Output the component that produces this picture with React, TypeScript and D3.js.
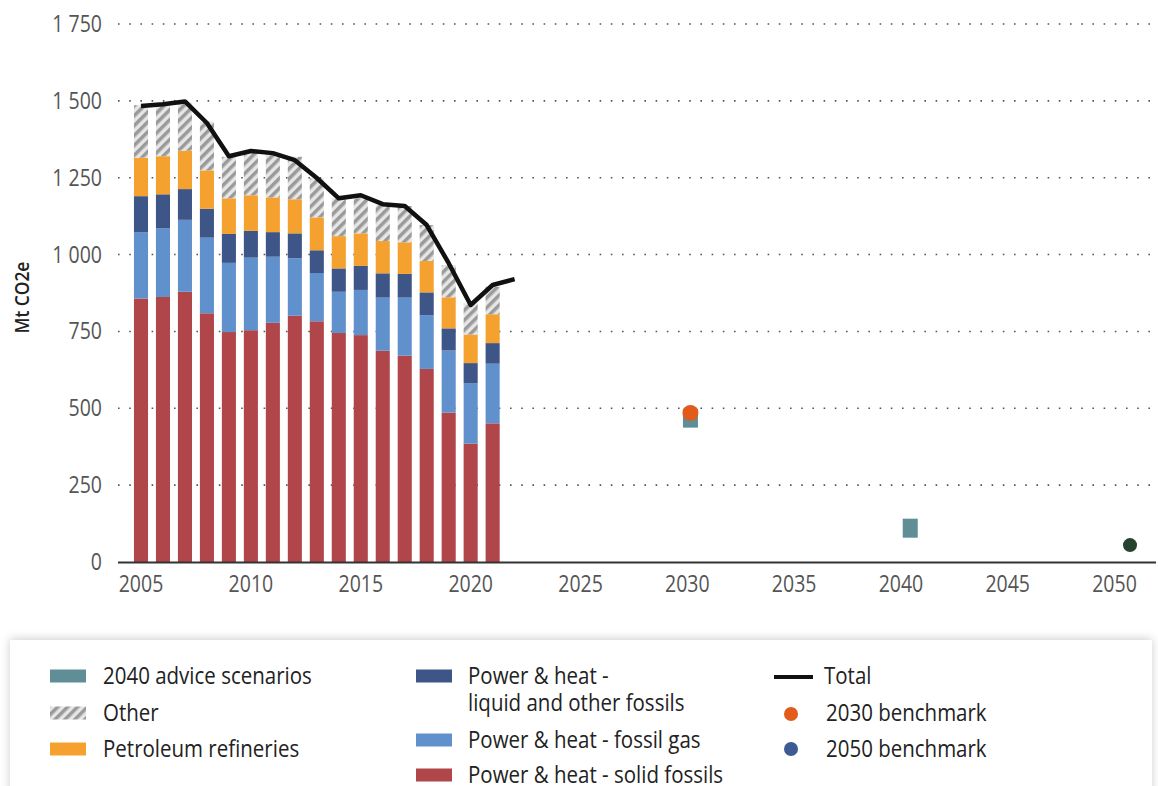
import React, { useEffect, useRef } from "react";
import * as d3 from "d3";

const years = d3.range(2005, 2022);
const solidFossils = [857, 862, 879, 809, 748, 754, 778, 801, 783, 745, 738, 687, 671, 628, 486, 385, 451];
const fossilGas = [216, 223, 234, 246, 225, 236, 215, 187, 157, 134, 147, 173, 189, 175, 202, 197, 194];
const liquidFossils = [117, 111, 100, 94, 94, 87, 80, 81, 74, 76, 78, 79, 77, 74, 72, 65, 67];
const refineries = [125, 124, 125, 125, 116, 116, 113, 111, 107, 105, 106, 105, 103, 102, 101, 93, 94];
const other = [171, 166, 156, 158, 135, 141, 143, 138, 127, 123, 114, 117, 118, 117, 105, 101, 89];

const totalYears = d3.range(2005, 2023);
const totals = [1483, 1489, 1498, 1428, 1320, 1337, 1330, 1307, 1249, 1183, 1193, 1164, 1158, 1096, 972, 836, 901, 920];

const adviceScenarios = [
  { year: 2030, value: 468 },
  { year: 2040, value: 110 },
];
const benchmark2030 = [{ year: 2030, value: 485 }];
const benchmark2050 = [{ year: 2050, value: 55 }];

const yTicks = [0, 250, 500, 750, 1000, 1250, 1500, 1750];
const xTickYears = [2005, 2010, 2015, 2020, 2025, 2030, 2035, 2040, 2045, 2050];

const seriesKeys = ["solid", "gas", "liquid", "refineries", "other"];
const seriesColors: Record<string, string> = {
  solid: "#b0454a",
  gas: "#6191cc",
  liquid: "#3d5587",
  refineries: "#f5a12f",
  other: "url(#hatch)",
};

const W = 1158;
const H = 786;
const FONT = "'Open Sans', 'Noto Sans', sans-serif";

const App: React.FC = () => {
  const ref = useRef<SVGSVGElement | null>(null);

  useEffect(() => {
    if (!ref.current) return;
    const svg = d3.select(ref.current);
    svg.selectAll("*").remove();

    const defs = svg.append("defs");
    const pat = defs
      .append("pattern")
      .attr("id", "hatch")
      .attr("patternUnits", "userSpaceOnUse")
      .attr("width", 7)
      .attr("height", 7)
      .attr("patternTransform", "rotate(45)");
    pat.append("rect").attr("width", 7).attr("height", 7).attr("fill", "#e6e6e6");
    pat.append("rect").attr("width", 3.5).attr("height", 7).attr("fill", "#9a9a9a");

    const shadow = defs
      .append("filter")
      .attr("id", "shadow")
      .attr("x", "-5%")
      .attr("y", "-20%")
      .attr("width", "110%")
      .attr("height", "140%");
    shadow
      .append("feDropShadow")
      .attr("dx", 0)
      .attr("dy", -1)
      .attr("stdDeviation", 5)
      .attr("flood-color", "#000")
      .attr("flood-opacity", 0.2);

    const allYears = d3.range(2005, 2051).map(String);
    const x = d3.scaleBand().domain(allYears).range([130, 1141]).paddingInner(0.36).paddingOuter(0.18);
    const cx = (yr: number) => (x(String(yr)) as number) + x.bandwidth() / 2;
    const y = d3.scaleLinear().domain([0, 1750]).range([562, 24]);

    // text stretched a little vertically, as in the original export
    const label = (
      g: d3.Selection<any, any, any, any>,
      tx: number,
      ty: number,
      s: string | number,
      opts: { size?: number; anchor?: string; fill?: string; stretch?: number } = {}
    ) =>
      g
        .append("text")
        .attr("transform", `translate(${tx},${ty}) scale(1,${opts.stretch ?? 1.15})`)
        .attr("dy", "0.35em")
        .attr("text-anchor", opts.anchor ?? "start")
        .attr("font-family", FONT)
        .attr("font-size", opts.size ?? 20)
        .attr("fill", opts.fill ?? "#222")
        .text(s);

    // grid
    const grid = svg.append("g");
    grid
      .selectAll("line")
      .data(yTicks.filter((t) => t > 0))
      .enter()
      .append("line")
      .attr("x1", 118)
      .attr("x2", 1155)
      .attr("y1", (d) => y(d))
      .attr("y2", (d) => y(d))
      .attr("stroke", "#555")
      .attr("stroke-width", 1.6)
      .attr("stroke-dasharray", "1.6 9.6");

    const fmt = (v: number) => d3.format(",")(v).replace(",", " ");
    const yAxis = svg.append("g");
    yTicks.forEach((t) => label(yAxis, 102, y(t), fmt(t), { size: 19.5, anchor: "end", fill: "#555", stretch: 1.18 }));

    svg
      .append("text")
      .attr("transform", `translate(29,${y(860)}) rotate(-90)`)
      .attr("text-anchor", "middle")
      .attr("font-family", FONT)
      .attr("font-size", 20)
      .attr("font-weight", 600)
      .attr("fill", "#222")
      .attr("textLength", 72)
      .attr("lengthAdjust", "spacingAndGlyphs")
      .text("Mt CO2e");

    // stacked bars
    const rows = years.map((yr, i) => ({
      year: yr,
      solid: solidFossils[i],
      gas: fossilGas[i],
      liquid: liquidFossils[i],
      refineries: refineries[i],
      other: other[i],
    }));
    const stacked = d3.stack<any>().keys(seriesKeys)(rows);
    svg
      .append("g")
      .selectAll("g")
      .data(stacked)
      .enter()
      .append("g")
      .attr("fill", (d) => seriesColors[d.key])
      .selectAll("rect")
      .data((d) => d)
      .enter()
      .append("rect")
      .attr("x", (d) => x(String(d.data.year)) as number)
      .attr("width", x.bandwidth())
      .attr("y", (d) => y(d[1]))
      .attr("height", (d) => y(d[0]) - y(d[1]));

    // x axis
    svg
      .append("line")
      .attr("x1", 118)
      .attr("x2", 1156)
      .attr("y1", 562.5)
      .attr("y2", 562.5)
      .attr("stroke", "#333")
      .attr("stroke-width", 2);
    const xAxis = svg.append("g");
    xTickYears.forEach((d) =>
      label(xAxis, cx(d) - Math.max(0, d - 2025) * 0.62, 584, d, {
        size: 19.5,
        anchor: "middle",
        fill: "#555",
        stretch: 1.18,
      })
    );

    // total line
    const line = d3
      .line<number>()
      .x((_, i) => cx(totalYears[i]))
      .y((d) => y(d));
    svg
      .append("path")
      .datum(totals)
      .attr("d", line)
      .attr("fill", "none")
      .attr("stroke", "#111")
      .attr("stroke-width", 4.5)
      .attr("stroke-linejoin", "round");

    // markers
    svg
      .append("g")
      .selectAll("rect")
      .data(adviceScenarios)
      .enter()
      .append("rect")
      .attr("x", (d) => cx(d.year) - 7.5)
      .attr("y", (d) => y(d.value) - 9.5)
      .attr("width", 15)
      .attr("height", 19)
      .attr("fill", "#5f8e97");
    svg
      .append("g")
      .selectAll("circle")
      .data(benchmark2030)
      .enter()
      .append("circle")
      .attr("cx", (d) => cx(d.year))
      .attr("cy", (d) => y(d.value))
      .attr("r", 8)
      .attr("fill", "#e25b1a");
    svg
      .append("g")
      .selectAll("circle")
      .data(benchmark2050)
      .enter()
      .append("circle")
      .attr("cx", (d) => cx(d.year))
      .attr("cy", (d) => y(d.value))
      .attr("r", 7)
      .attr("fill", "#27432f");

    // legend
    const lg = svg.append("g");
    lg.append("rect")
      .attr("x", 10)
      .attr("y", 640)
      .attr("width", 1142)
      .attr("height", 160)
      .attr("fill", "#fff")
      .attr("filter", "url(#shadow)");

    const text = (tx: number, ty: number, s: string) => label(lg, tx, ty, s, { size: 20.5, stretch: 1.12 });
    const swatch = (sx: number, sy: number, fill: string) =>
      lg.append("rect").attr("x", sx).attr("y", sy - 6.5).attr("width", 36).attr("height", 13).attr("fill", fill);

    swatch(50, 676, "#5f8e97");
    text(103, 676, "2040 advice scenarios");
    swatch(50, 713, "url(#hatch)");
    text(103, 713, "Other");
    swatch(50, 749, seriesColors.refineries);
    text(103, 749, "Petroleum refineries");

    swatch(416, 676, seriesColors.liquid);
    text(468, 676, "Power & heat -");
    text(468, 703, "liquid and other fossils");
    swatch(416, 740, seriesColors.gas);
    text(468, 740, "Power & heat - fossil gas");
    swatch(416, 775, seriesColors.solid);
    text(468, 775, "Power & heat - solid fossils");

    lg.append("line")
      .attr("x1", 774)
      .attr("x2", 813)
      .attr("y1", 677)
      .attr("y2", 677)
      .attr("stroke", "#111")
      .attr("stroke-width", 4);
    text(824, 676, "Total");
    lg.append("circle").attr("cx", 791).attr("cy", 714).attr("r", 7).attr("fill", "#e25b1a");
    text(826, 713, "2030 benchmark");
    lg.append("circle").attr("cx", 791).attr("cy", 749).attr("r", 7).attr("fill", "#3d5a94");
    text(826, 749, "2050 benchmark");
  }, []);

  return (
    <svg
      ref={ref}
      width={W}
      height={H}
      style={{ position: "absolute", left: 0, top: 0, background: "#fff" }}
    ></svg>
  );
};

export default App;
